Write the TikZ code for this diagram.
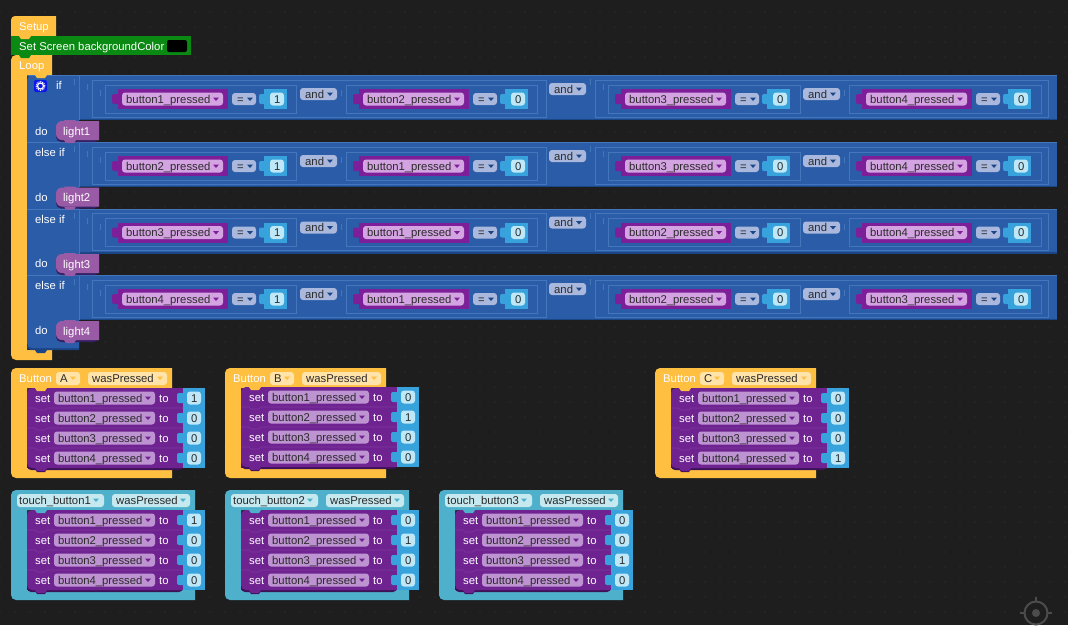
\documentclass[tikz,border=0pt]{standalone}
\usepackage{fontspec}
\setmainfont{Liberation Sans}

\definecolor{bgcol}{HTML}{1E1E1E}
\definecolor{dotcol}{HTML}{2A2A2A}
\definecolor{hatyellow}{HTML}{FFBF40}
\definecolor{hatpill}{HTML}{FFE3A8}
\definecolor{hatteal}{HTML}{4FB0CC}
\definecolor{tealpill}{HTML}{C6E8EF}
\definecolor{screengreen}{HTML}{0A8A12}
\definecolor{ifblue}{HTML}{2A5CA8}
\definecolor{ifdark}{HTML}{1C4585}
\definecolor{ifline}{HTML}{4476BC}
\definecolor{eqpill}{HTML}{A9B8DC}
\definecolor{termpurple}{HTML}{7D1F98}
\definecolor{termpill}{HTML}{D4A4E2}
\definecolor{setpurple}{HTML}{6F2391}
\definecolor{setdark}{HTML}{3F1258}
\definecolor{setline}{HTML}{7F389E}
\definecolor{setpill}{HTML}{BE93D2}
\definecolor{numblue}{HTML}{38A2DC}
\definecolor{numpill}{HTML}{BEE8F8}
\definecolor{lightpurple}{HTML}{9A5BA6}
\definecolor{inktext}{HTML}{2A2A2A}
\definecolor{targetgrey}{HTML}{4C4C4C}

\tikzset{
  whitetext/.style={font=\fontsize{11.3}{13}\selectfont, text=white, inner sep=0pt, anchor=base west},
  inktxt/.style={font=\fontsize{11.3}{13}\selectfont, text=inktext, inner sep=0pt, anchor=base west},
  pillbox/.style={rounded corners=3pt},
}

% #1 x, #2 y centre, #3 colour
\newcommand{\dropdown}[3]{\fill[#3] (#1-3,#2-1.5) -- (#1+3,#2-1.5) -- (#1,#2+2) -- cycle;}
% #1 x, #2 y top, #3 colour
\newcommand{\bump}[3]{\fill[#3] (#1+8,#2) -- (#1+10,#2+3) -- (#1+18,#2+3) -- (#1+20,#2) -- cycle;}

% #1 name, #2 x, #3 y centre, #4 variable, #5 value
\newcommand{\term}[5]{
  \fill[termpurple,rounded corners=2pt] (#2-6,#3-5) rectangle (#2+3,#3+5);
  \fill[termpurple] (#2,#3-10) rectangle (#2+110,#3+10);
  \fill[termpill,pillbox] (#2+4,#3-6.5) rectangle (#2+105,#3+6.5);
  \node[inktxt] (#1var) at (#2+8,#3+4) {#4\_pressed};
  \dropdown{#2+98}{#3}{termpurple}
  \fill[eqpill,pillbox] (#2+114,#3-6) rectangle (#2+138,#3+6);
  \node[inktxt] (#1eq) at (#2+119,#3+4) {=};
  \dropdown{#2+132}{#3}{ifdark}
  \fill[numblue,rounded corners=2pt] (#2+141,#3-5) rectangle (#2+150,#3+5);
  \fill[numblue] (#2+146,#3-10) rectangle (#2+169,#3+10);
  \fill[numpill,pillbox] (#2+152,#3-6.5) rectangle (#2+166,#3+6.5);
  \node[inktxt] (#1num) at (#2+156,#3+4) {#5};
}

% #1 name, #2 x, #3 y centre
\newcommand{\andpill}[3]{
  \fill[eqpill,pillbox] (#2,#3-6) rectangle (#2+37,#3+6);
  \node[inktxt] (#1) at (#2+5,#3+4) {and};
  \dropdown{#2+30}{#3}{ifdark}
}

% #1 name, #2 y top, #3..#6 variables
\newcommand{\condrow}[6]{
  \fill[ifblue] (79,#2) rectangle (1057,#2+45);
  \fill[ifdark] (79,#2+43.5) rectangle (1057,#2+45);
  \fill[ifline] (27,#2) rectangle (1057,#2+1);
  \draw[ifline,line width=.7pt] (79,#2) -- (79,#2+45);
  \draw[ifline,line width=.7pt] (92,#2+5) rectangle (546,#2+42);
  \draw[ifline,line width=.7pt] (105,#2+10) rectangle (296,#2+38);
  \draw[ifline,line width=.7pt] (346,#2+10) rectangle (537,#2+38);
  \draw[ifline,line width=.7pt] (595,#2+5) rectangle (1048,#2+42);
  \draw[ifline,line width=.7pt] (608,#2+10) rectangle (800,#2+38);
  \draw[ifline,line width=.7pt] (849,#2+10) rectangle (1041,#2+38);
  \foreach \tx/\ty in {74/4,87/9,100/15,341/15,590/4,603/9,844/15}
    \draw[ifline,line width=.7pt] (\tx,#2+\ty) -- (\tx,#2+\ty+6);
  \term{#1a}{118}{#2+24}{#3}{1}
  \term{#1b}{359}{#2+24}{#4}{0}
  \term{#1c}{621}{#2+24}{#5}{0}
  \term{#1d}{862}{#2+24}{#6}{0}
  \andpill{#1and1}{300}{#2+19}
  \andpill{#1and2}{549}{#2+14}
  \andpill{#1and3}{803}{#2+19}
}

% #1 name, #2 y top, #3 text
\newcommand{\lightblock}[3]{
  \fill[setdark!70!ifdark,rounded corners=5pt] (56,#2+2) rectangle (99,#2+21);
  \fill[lightpurple] (99,#2) [rounded corners=6pt] -- (56,#2) -- (56,#2+19) [sharp corners] -- (99,#2+19) -- cycle;
  \bump{56}{#2+19}{lightpurple}
  \bump{56}{#2-1}{lightpurple}
  \node[whitetext] (#1) at (63,#2+14) {#3};
}

% #1 x, #2 y, #3 width, #4 height, #5 colour
\newcommand{\hatblock}[5]{
  \fill[#5] (#1+#3,#2) -- (#1+#3,#2+20) -- (#1+16,#2+20) -- (#1+16,#2+#4-10) -- (#1+#3,#2+#4-10) -- (#1+#3,#2+#4)
    [rounded corners=5pt] -- (#1,#2+#4) -- (#1,#2) [sharp corners] -- cycle;
}

% #1 name, #2 x, #3 y, #4..#7 values
\newcommand{\setstack}[7]{
  \fill[setdark,rounded corners=4pt] (#2,#3+4) rectangle (#2+156,#3+82);
  \bump{#2}{#3+81}{setdark}
  \fill[setpurple] (#2+156,#3) [rounded corners=5pt] -- (#2,#3) -- (#2,#3+80) [sharp corners] -- (#2+156,#3+80) -- cycle;
  \foreach \n/\v in {1/#4,2/#5,3/#6,4/#7}{
    \pgfmathsetmacro{\rowy}{#3+20*(\n-1)}
    \ifnum\n>1 \draw[setline,line width=.6pt] (#2,\rowy) -- (#2+8,\rowy) -- (#2+10,\rowy+2) -- (#2+18,\rowy+2) -- (#2+20,\rowy) -- (#2+156,\rowy);\fi
    \node[whitetext] (#1set\n) at (#2+8,\rowy+14) {set};
    \fill[setpill,pillbox] (#2+27,\rowy+3.5) rectangle (#2+128,\rowy+16.5);
    \node[inktxt] (#1var\n) at (#2+31,\rowy+14) {button\n\_pressed};
    \dropdown{#2+121}{\rowy+10}{setpurple}
    \node[whitetext] (#1to\n) at (#2+132,\rowy+14) {to};
    \fill[numblue,rounded corners=2pt] (#2+150,\rowy+5) rectangle (#2+159,\rowy+15);
    \fill[numblue] (#2+156,\rowy) rectangle (#2+178,\rowy+20);
    \fill[numpill,pillbox] (#2+160,\rowy+3.5) rectangle (#2+174,\rowy+16.5);
    \node[inktxt] (#1num\n) at (#2+164,\rowy+14) {\v};
  }
  \bump{#2}{#3+80}{setpurple}
}

% #1 name, #2 x, #3 y, #4 letter, #5 stack y, #6..#9 values
\newcommand{\buttonhat}[9]{
  \hatblock{#2}{#3}{161}{110}{hatyellow}
  \node[whitetext] (#1label) at (#2+8,#3+14) {Button};
  \fill[hatpill,pillbox] (#2+45,#3+4) rectangle (#2+69,#3+17);
  \node[inktxt] (#1letter) at (#2+49,#3+14) {#4};
  \dropdown{#2+62}{#3+10}{hatyellow}
  \fill[hatpill,pillbox] (#2+77,#3+4) rectangle (#2+156,#3+17);
  \node[inktxt] (#1event) at (#2+81,#3+14) {wasPressed};
  \dropdown{#2+149}{#3+10}{hatyellow}
  \setstack{#1}{#2+16}{#5}{#6}{#7}{#8}{#9}
  \bump{#2+16}{#5}{hatyellow}
}

% #1 name, #2 x, #3 y, #4 touch index, #5..#8 values
\newcommand{\touchhat}[8]{
  \hatblock{#2}{#3}{184}{110}{hatteal}
  \fill[tealpill,pillbox] (#2+6,#3+4) rectangle (#2+93,#3+17);
  \node[inktxt] (#1label) at (#2+8,#3+14) {touch\_button#4};
  \dropdown{#2+85}{#3+10}{hatteal}
  \fill[tealpill,pillbox] (#2+101,#3+4) rectangle (#2+179,#3+17);
  \node[inktxt] (#1event) at (#2+105,#3+14) {wasPressed};
  \dropdown{#2+172}{#3+10}{hatteal}
  \setstack{#1}{#2+16}{#3+20}{#5}{#6}{#7}{#8}
  \bump{#2+16}{#3+20}{hatteal}
}

\begin{document}
\begin{tikzpicture}[x=1pt,y=-1pt]
\useasboundingbox (0,0) rectangle (1068,625);
\fill[bgcol] (0,0) rectangle (1068,625);
\fill[dotcol] \foreach \i in {0,...,71}{\foreach \j in {0,...,41}{(15*\i-.7,15*\j+11.3) rectangle ++(1.4,1.4)}};

% setup and loop
\fill[hatyellow] (56,36) -- (56,16) [rounded corners=4pt] -- (11,16) [sharp corners] -- (11,36) -- cycle;
\fill[screengreen] (11,36) rectangle (191,55);
\bump{11}{36}{hatyellow}
\node[whitetext] (setuplabel) at (19,30) {Setup};
\node[whitetext] (screenlabel) at (19,50) {Set Screen backgroundColor};
\fill[black,rounded corners=2pt] (167,40) rectangle (187,52);
\hatblock{11}{55}{41}{305}{hatyellow}
\bump{11}{55}{screengreen}
\node[whitetext] (looplabel) at (19,69) {Loop};

% if column
\fill[ifdark] (79,340) -- (79,350) [rounded corners=4pt] -- (27,350) -- (27,344) [sharp corners] -- cycle;
\fill[ifblue] (79,75) [rounded corners=5pt] -- (27,75) -- (27,348) [sharp corners] -- (79,348) -- cycle;
\bump{27}{350}{ifdark}
\condrow{rowa}{75}{button1}{button2}{button3}{button4}
\condrow{rowb}{142}{button2}{button1}{button3}{button4}
\condrow{rowc}{208.5}{button3}{button1}{button2}{button4}
\condrow{rowd}{275}{button4}{button1}{button2}{button3}
\bump{27}{75}{hatyellow}

% gear
\fill[blue!75!ifblue,rounded corners=2pt] (34,80) rectangle (47,92);
\draw[white,line width=1.2pt] (40.5,86) circle (3pt);
\draw[white,line width=1pt,dash pattern=on 1pt off 1pt] (40.5,86) circle (4.5pt);

\node[whitetext] (iflabel) at (56,89) {if};
\node[whitetext] (elseiflabela) at (35,156) {else if};
\node[whitetext] (elseiflabelb) at (35,223) {else if};
\node[whitetext] (elseiflabelc) at (35,289) {else if};
\foreach \dy in {135,201,267,334}
  \node[whitetext] (dolabel\dy) at (35,\dy) {do};
\lightblock{lighta}{121}{light1}
\lightblock{lightb}{187.5}{light2}
\lightblock{lightc}{254}{light3}
\lightblock{lightd}{321}{light4}

% event blocks
\buttonhat{hata}{11}{368}{A}{388}{1}{0}{0}{0}
\buttonhat{hatb}{225}{368}{B}{387}{0}{1}{0}{0}
\buttonhat{hatc}{655}{368}{C}{388}{0}{0}{0}{1}
\touchhat{toucha}{11}{490}{1}{1}{0}{0}{0}
\touchhat{touchb}{225}{490}{2}{0}{1}{0}{0}
\touchhat{touchc}{439}{490}{3}{0}{0}{1}{0}

% target mark
\draw[targetgrey,line width=2pt] (1036,613) circle (11.5pt);
\fill[targetgrey] (1036,613) circle (4pt);
\draw[targetgrey,line width=1.2pt] (1036,597) -- (1036,601) (1020,613) -- (1024,613) (1048,613) -- (1052,613);
\end{tikzpicture}
\end{document}
